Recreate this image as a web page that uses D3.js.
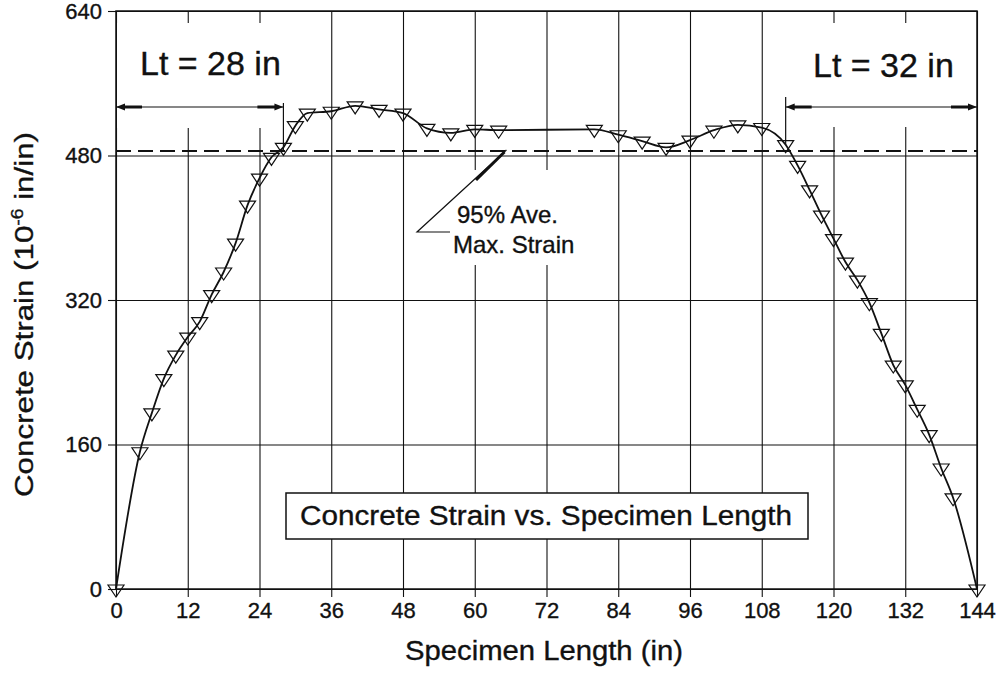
<!DOCTYPE html>
<html>
<head>
<meta charset="utf-8">
<script src="https://cdn.jsdelivr.net/npm/d3@7/dist/d3.min.js"></script>
<style>
  html, body { margin: 0; padding: 0; background: #fff; }
  svg { display: block; font-family: "Liberation Sans", Arial, Helvetica, sans-serif; }
  text { stroke: #111; stroke-width: 0.35px; }
</style>
</head>
<body>
<svg id="chart" width="1005" height="676"></svg>
<script>
// ---- data ----
const lengthIn = [0,4,6,8,10,12,14,16,18,20,22,24,26,28,30,32,36,40,44,48,52,56,60,64,80,84,88,92,96,100,104,108,112,114,116,118,120,122,124,126,128,130,132,134,136,138,140,144];
const strain   = [0,152,195,233,259,279,296,326,351,383,425,455,478,489,513,527,529,535,531,527,510,505,509,508,509,503,496,489,497,508,514,511,492,469,442,414,388,362,342,317,283,248,226,199,171,134,101,0];
const xTicks = [0,12,24,36,48,60,72,84,96,108,120,132,144];
const yTicks = [0,160,320,480,640];
const avgLine95 = 485;
const ltLeft = [0, 28];
const ltRight = [112, 144];
const ltLeftLabel = "Lt = 28 in";
const ltRightLabel = "Lt = 32 in";
const titleText = "Concrete Strain vs. Specimen Length";
const xLabel = "Specimen Length (in)";
const annot = ["95% Ave.", "Max. Strain"];

// ---- layout ----
const svg = d3.select("#chart");
const m = {left: 116, right: 28, top: 11, bottom: 87};
const W = 1005, H = 676;
const x = d3.scaleLinear().domain([0,144]).range([m.left, W - m.right]);
const y = d3.scaleLinear().domain([0,640]).range([H - m.bottom, m.top]);
const ink = "#111";

// gridlines + ticks via axes
const gx = svg.append("g").attr("transform", `translate(0,${y(0)})`)
  .call(d3.axisBottom(x).tickValues(xTicks).tickSize(-(y(0)-y(640))).tickSizeOuter(0).tickPadding(12));
gx.select(".domain").remove();
gx.selectAll(".tick line").attr("stroke", ink).attr("stroke-width", 1.1);
gx.selectAll(".tick").append("line").attr("y1", 0).attr("y2", 8).attr("stroke", ink).attr("stroke-width", 1.1);
gx.selectAll(".tick text").attr("font-size", 22).attr("fill", ink).attr("font-family", "Liberation Sans, Arial, sans-serif").attr("dy", "0.75em");

const gy = svg.append("g").attr("transform", `translate(${x(0)},0)`)
  .call(d3.axisLeft(y).tickValues(yTicks).tickSize(-(x(144)-x(0))).tickSizeOuter(0).tickPadding(14));
gy.select(".domain").remove();
gy.selectAll(".tick line").attr("stroke", ink).attr("stroke-width", 1.1);
gy.selectAll(".tick").append("line").attr("x1", 0).attr("x2", -8).attr("stroke", ink).attr("stroke-width", 1.1);
gy.selectAll(".tick text").attr("font-size", 22).attr("fill", ink).attr("font-family", "Liberation Sans, Arial, sans-serif");

// white label boxes that interrupt gridlines
svg.append("rect").attr("x", x(0)+1).attr("y", 23).attr("width", 185).attr("height", 105).attr("fill", "#fff");
svg.append("rect").attr("x", 775).attr("y", 23).attr("width", x(144)-775-1).attr("height", 104).attr("fill", "#fff");
svg.append("rect").attr("x", 412).attr("y", 170).attr("width", 190).attr("height", 95).attr("fill", "#fff");

// frame
svg.append("rect").attr("x", x(0)).attr("y", y(640)).attr("width", x(144)-x(0)).attr("height", y(0)-y(640))
  .attr("fill", "none").attr("stroke", ink).attr("stroke-width", 1.5);

// 95% dashed line
svg.append("line").attr("x1", x(0)).attr("x2", x(144)).attr("y1", y(avgLine95)).attr("y2", y(avgLine95))
  .attr("stroke", ink).attr("stroke-width", 1.8).attr("stroke-dasharray", "15,7");

// curve
const line = d3.line().x((d,i)=>x(lengthIn[i])).y((d,i)=>y(strain[i])).curve(d3.curveMonotoneX);
svg.append("path").datum(strain).attr("d", line).attr("fill", "none").attr("stroke", ink).attr("stroke-width", 1.8);

// triangle markers (point-down)
svg.append("g").selectAll("path").data(strain).join("path")
  .attr("d", (d,i) => {
    const cx = x(lengthIn[i]), cy = y(d);
    return `M${cx-8},${cy-4}L${cx+8},${cy-4}L${cx},${cy+8}Z`;
  })
  .attr("fill", "none").attr("stroke", ink).attr("stroke-width", 1.2);

// transfer length arrows
function dimArrow(x0, x1, yy, tickTop, tickBottom, tickAtX) {
  const g = svg.append("g").attr("stroke", ink).attr("fill", ink);
  g.append("line").attr("x1", x0).attr("x2", x1).attr("y1", yy).attr("y2", yy).attr("stroke-width", 1.2);
  g.append("line").attr("x1", x0+6).attr("x2", x0+26).attr("y1", yy).attr("y2", yy).attr("stroke-width", 3);
  g.append("line").attr("x1", x1-26).attr("x2", x1-6).attr("y1", yy).attr("y2", yy).attr("stroke-width", 3);
  g.append("path").attr("d", `M${x0},${yy}L${x0+9},${yy-3.5}L${x0+9},${yy+3.5}Z`).attr("stroke", "none");
  g.append("path").attr("d", `M${x1},${yy}L${x1-9},${yy-3.5}L${x1-9},${yy+3.5}Z`).attr("stroke", "none");
  g.append("line").attr("x1", tickAtX).attr("x2", tickAtX).attr("y1", tickTop).attr("y2", tickBottom).attr("stroke-width", 1.2);
}
dimArrow(x(ltLeft[0]), x(ltLeft[1]), 107, 103, 150, x(ltLeft[1]));
dimArrow(x(ltRight[0]), x(ltRight[1]), 107, 97, 145, x(ltRight[0]));

svg.append("text").attr("x", 140).attr("y", 75).attr("font-size", 34).attr("fill", ink).text(ltLeftLabel);
svg.append("text").attr("x", 813).attr("y", 77).attr("font-size", 34).attr("fill", ink).text(ltRightLabel);

// annotation leader
svg.append("path").attr("d", `M450,232L417,232L${x(65.3)},${y(avgLine95)-1}`)
  .attr("fill", "none").attr("stroke", ink).attr("stroke-width", 1.2);
svg.append("line").attr("x1", 476).attr("y1", 180).attr("x2", x(65.3)-2).attr("y2", y(avgLine95)+1)
  .attr("stroke", ink).attr("stroke-width", 3);
svg.append("text").attr("x", 457).attr("y", 223).attr("font-size", 24).attr("fill", ink).text(annot[0]);
svg.append("text").attr("x", 453).attr("y", 253).attr("font-size", 24).attr("fill", ink).text(annot[1]);

// title box
svg.append("rect").attr("x", 286).attr("y", 493).attr("width", 522).attr("height", 46)
  .attr("fill", "#fff").attr("stroke", ink).attr("stroke-width", 1.5);
svg.append("text").attr("x", 300).attr("y", 525).attr("font-size", 27).attr("fill", ink)
  .attr("textLength", 492).attr("lengthAdjust", "spacingAndGlyphs").text(titleText);

// axis labels
svg.append("text").attr("x", 405).attr("y", 660).attr("font-size", 27).attr("fill", ink)
  .attr("textLength", 278).attr("lengthAdjust", "spacingAndGlyphs").text(xLabel);

const yl = svg.append("text").attr("transform", "translate(33,497) rotate(-90)")
  .attr("font-size", 26).attr("fill", ink).attr("textLength", 365).attr("lengthAdjust", "spacingAndGlyphs");
yl.append("tspan").text("Concrete Strain (10");
yl.append("tspan").attr("font-size", 16).attr("dy", -10).text("-6");
yl.append("tspan").attr("dy", 10).text(" in/in)");
</script>
</body>
</html>
